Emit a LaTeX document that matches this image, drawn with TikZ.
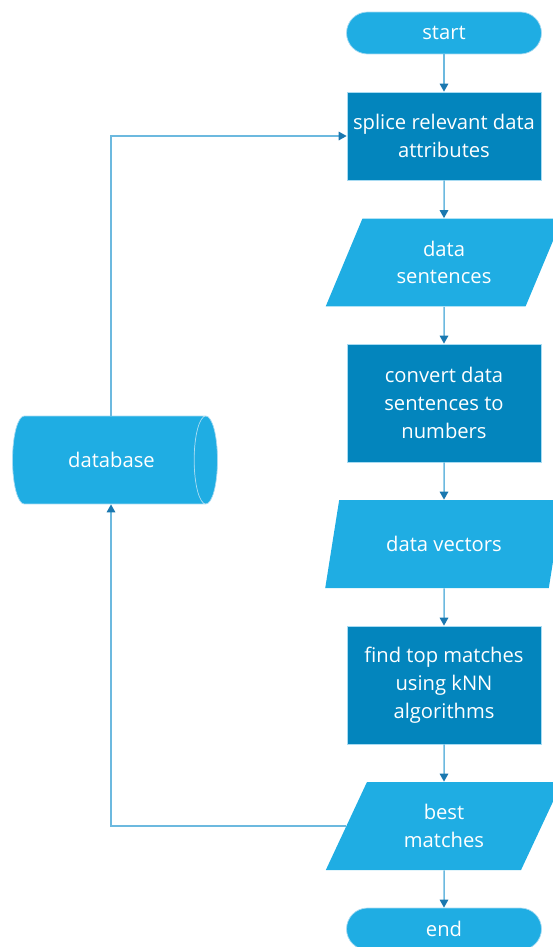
\documentclass[tikz,border=0pt]{standalone}
\usepackage{fontspec}
\setmainfont{Open Sans}
\usetikzlibrary{shapes.geometric, arrows.meta, positioning}

\definecolor{boxlight}{HTML}{1FADE3}
\definecolor{boxdark}{HTML}{0385BD}
\definecolor{linkblue}{HTML}{6CB9DF}
\definecolor{tipblue}{HTML}{1A78B0}
\definecolor{edgelight}{HTML}{A8DBF2}

\begin{document}
\begin{tikzpicture}[
  x=0.02cm, y=-0.02cm,
  base/.style={text=white, font=\fontsize{11.5}{15.8}\selectfont, align=center, inner sep=0pt, draw=edgelight, line width=0.4pt},
  termbox/.style={base, fill=boxlight, rectangle, rounded corners=0.42cm, minimum width=3.9cm, minimum height=0.84cm},
  procbox/.style={base, fill=boxdark, rectangle, minimum width=3.88cm},
  iobox/.style={base, fill=boxlight, draw=none, trapezium, trapezium left angle=63.7, trapezium right angle=116.3, trapezium stretches=true, minimum width=4.76cm, minimum height=1.76cm},
  dbbox/.style={base, cylinder, shape aspect=1.5, minimum height=4.1cm, minimum width=1.76cm, cylinder uses custom fill, cylinder body fill=boxlight, cylinder end fill=boxlight},
  link/.style={draw=linkblue, line width=0.85pt, -{Triangle[width=0.17cm, length=0.16cm, color=tipblue]}}
]
  \useasboundingbox (0,0) rectangle (552,947);
  % main column
  \node[termbox](start) at (444,33)    {start};
  \node[procbox, minimum height=1.76cm](splice) at (444,136) {splice relevant data\\attributes};
  \node[iobox](sentences) at (444,262.5) {data\\sentences};
  \node[procbox, minimum height=2.36cm](convert) at (444,403) {convert data\\sentences to\\numbers};
  \node[iobox](vectors) at (444,544)   {data vectors};
  \node[procbox, minimum height=2.36cm](find) at (444,685) {find top matches\\using kNN\\algorithms};
  \node[iobox](best) at (444,826)      {best\\matches};
  \node[termbox](end) at (444,929)     {end};
  % store on the left
  \node[dbbox](db) at (109,460)        {\hspace*{0.1cm}database};

  \draw[link](start)--(splice);
  \draw[link](splice)--(sentences);
  \draw[link](sentences)--(convert);
  \draw[link](convert)--(vectors);
  \draw[link](vectors)--(find);
  \draw[link](find)--(best);
  \draw[link](best)--(end);
  % feedback loop
  \draw[link](best.west) -| ([xshift=0.04cm]db.south);
  \draw[link]([xshift=0.04cm]db.north) |- (splice.west);
\end{tikzpicture}
\end{document}
